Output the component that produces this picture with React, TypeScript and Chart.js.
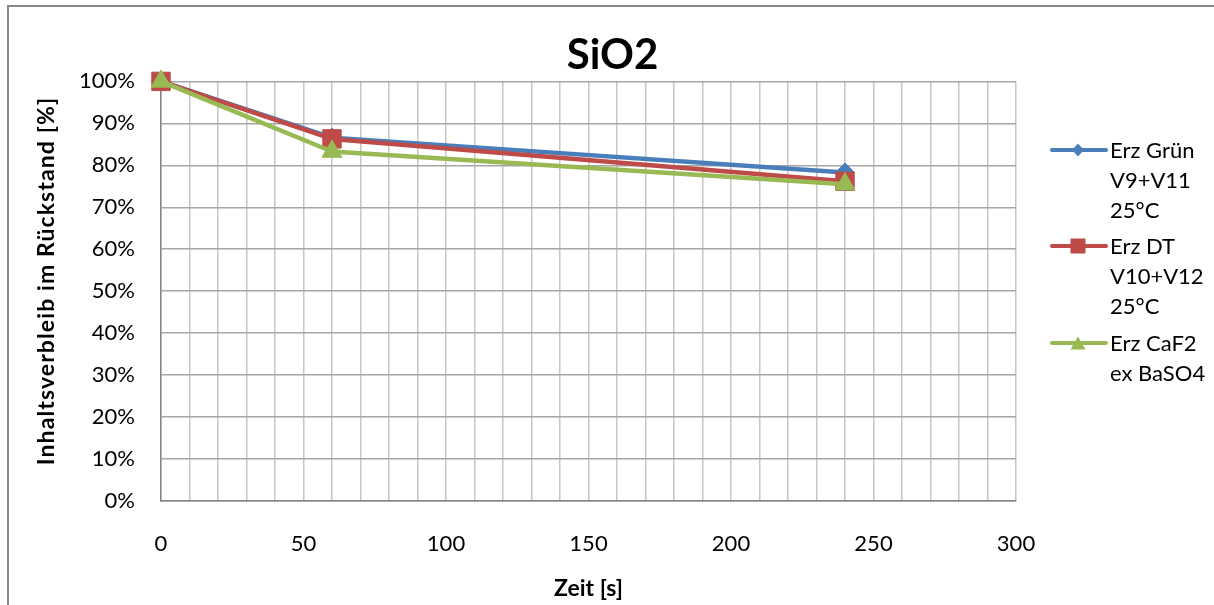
import React, { useEffect, useRef } from 'react';
import { Chart, registerables } from 'chart.js';

Chart.register(...registerables);

// ---- data ----
const timeSeconds = [0, 60, 240];
const erzGruen = [100, 86.6, 78.3];
const erzDT = [100, 86.3, 76.2];
const erzCaF2 = [100, 83.3, 75.5];

const seriesLabels = [
  ['Erz Grün', 'V9+V11', '25°C'],
  ['Erz DT', 'V10+V12', '25°C'],
  ['Erz CaF2', 'ex BaSO4'],
];
const seriesColors = ['#4a7ebb', '#be4b48', '#98b954'];
const seriesPointStyles = ['rectRot', 'rect', 'triangle'];
const seriesPointRadius = [9.5, 13, 11.5];

const xTickLabels = [0, 50, 100, 150, 200, 250, 300];
const chartTitle = 'SiO2';
const xAxisTitle = 'Zeit [s]';
const yAxisTitle = 'Inhaltsverbleib im Rückstand [%]';

const FONT = 'Lato';

function LegendIcon({ idx }: { idx: number }) {
  const c = seriesColors[idx];
  let marker: any = null;
  if (idx === 0) {
    marker = <polygon points="28,3.5 34,10 28,16.5 22,10" fill={c} />;
  } else if (idx === 1) {
    marker = <rect x={20.5} y={2.5} width={15} height={15} fill={c} />;
  } else {
    marker = <polygon points="28,3.5 35.5,16.5 20.5,16.5" fill={c} />;
  }
  return (
    <svg width={58} height={20} style={{ position: 'absolute', left: 0, top: 5.4 }}>
      <line x1={2} y1={10} x2={56} y2={10} stroke={c} strokeWidth={4} strokeLinecap="round" />
      {marker}
    </svg>
  );
}

export default function App() {
  const canvasRef = useRef<HTMLCanvasElement | null>(null);

  useEffect(() => {
    const canvas = canvasRef.current;
    if (!canvas) return;
    const series = [erzGruen, erzDT, erzCaF2];
    const orders = [2, 1, 0];
    const chart = new Chart(canvas, {
      type: 'line',
      data: {
        datasets: series.map((vals, i) => ({
          label: seriesLabels[i].join(' '),
          data: timeSeconds.map((x, j) => ({ x, y: vals[j] })),
          borderColor: seriesColors[i],
          backgroundColor: seriesColors[i],
          pointBackgroundColor: seriesColors[i],
          pointBorderColor: seriesColors[i],
          pointBorderWidth: 1,
          pointStyle: seriesPointStyles[i] as any,
          pointRadius: seriesPointRadius[i],
          borderWidth: 4.5,
          borderJoinStyle: 'round' as const,
          borderCapStyle: 'round' as const,
          tension: 0,
          fill: false,
          clip: false as any,
          order: orders[i],
        })),
      },
      options: {
        animation: false,
        responsive: false,
        devicePixelRatio: 1,
        layout: { padding: { left: 11, right: 0, top: 0, bottom: 0 } },
        font: { family: FONT },
        plugins: {
          legend: { display: false },
          tooltip: { enabled: false },
          title: {
            display: true,
            text: chartTitle,
            color: '#000',
            font: { family: FONT, size: 42, weight: 'bold' },
            padding: { top: 30, bottom: 1 },
          },
        },
        scales: {
          x: {
            type: 'linear',
            position: 'bottom',
            min: 0,
            max: 300,
            ticks: {
              stepSize: 10,
              autoSkip: false,
              maxRotation: 0,
              padding: 30,
              color: '#000',
              font: { family: FONT, size: 22 },
              callback: (v: any) => (xTickLabels.includes(Number(v)) ? String(v) : ''),
            },
            grid: { color: '#c6c6c6', lineWidth: 1.5, drawTicks: false },
            border: { color: '#868686', width: 1.5 },
            title: {
              display: true,
              text: xAxisTitle,
              color: '#000',
              font: { family: FONT, size: 23, weight: 'bold' },
              padding: { top: 0, bottom: 3 },
            },
            afterFit: (s: any) => {
              s.height = 104;
            },
          },
          y: {
            type: 'linear',
            position: 'left',
            min: 0,
            max: 100,
            ticks: {
              stepSize: 10,
              padding: 26,
              color: '#000',
              font: { family: FONT, size: 22 },
              callback: (v: any) => `${v}%`,
            },
            grid: { color: '#a6a6a6', lineWidth: 1.5, drawTicks: false },
            border: { color: '#868686', width: 1.5 },
            afterFit: (s: any) => {
              s.width = 150;
            },
          },
          ySpacer: {
            type: 'linear',
            axis: 'y',
            position: 'right',
            display: true,
            grid: { display: false },
            border: { display: false },
            ticks: { display: false },
            afterFit: (s: any) => {
              s.width = 198;
            },
          },
        },
      } as any,
    });
    return () => chart.destroy();
  }, []);

  const itemTops = [134.6, 231.1, 327.6];

  return (
    <div
      style={{
        position: 'fixed',
        left: 0,
        top: 0,
        width: 1214,
        height: 605,
        overflow: 'hidden',
        background: '#fff',
      }}
    >
      <canvas
        ref={canvasRef}
        width={1214}
        height={605}
        style={{ position: 'absolute', left: 0, top: 0, width: 1214, height: 605, display: 'block' }}
      />
      <div
        style={{
          position: 'absolute',
          left: 7,
          top: 5,
          width: 2000,
          height: 2000,
          border: '2px solid #878787',
          pointerEvents: 'none',
        }}
      />
      <div
        style={{
          position: 'absolute',
          left: 44.5,
          top: 280.5,
          transform: 'translate(-50%, -50%) rotate(-90deg)',
          whiteSpace: 'nowrap',
          fontFamily: FONT,
          fontWeight: 'bold',
          fontSize: 23,
          lineHeight: '24px',
          letterSpacing: '1.1px',
          color: '#000',
        }}
      >
        {yAxisTitle}
      </div>
      {seriesLabels.map((lines, i) => (
        <div
          key={i}
          style={{
            position: 'absolute',
            left: 1050,
            top: itemTops[i],
            width: 164,
            fontFamily: FONT,
            fontSize: 22,
            lineHeight: '30px',
            color: '#000',
          }}
        >
          <LegendIcon idx={i} />
          <div style={{ marginLeft: 60, whiteSpace: 'nowrap' }}>
            {lines.map((t, k) => (
              <div key={k}>{t}</div>
            ))}
          </div>
        </div>
      ))}
    </div>
  );
}
